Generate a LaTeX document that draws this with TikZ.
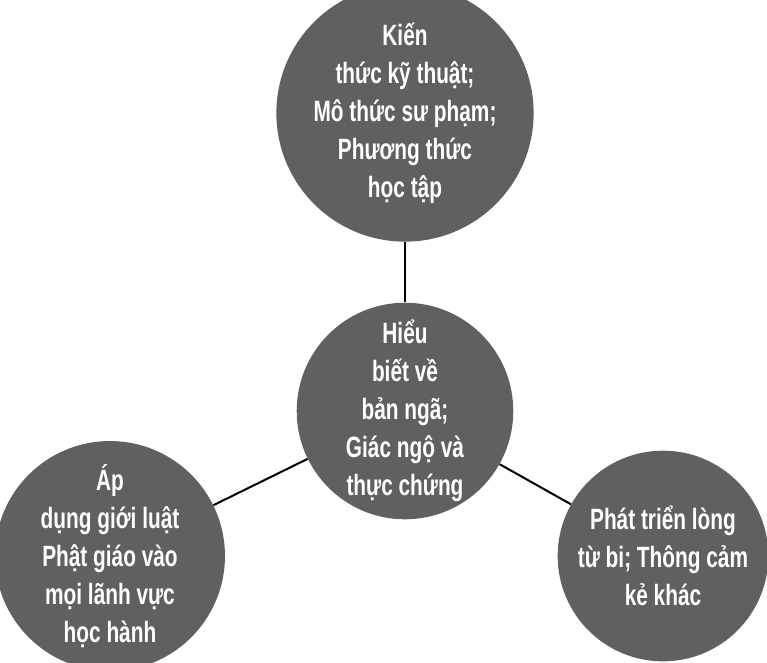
\documentclass[tikz,border=0pt]{standalone}
\usepackage{fontspec}
\setmainfont{Liberation Sans}[FakeStretch=0.71]
\usepackage{xcolor}
\usepackage{tikz}
\definecolor{vonggray}{RGB}{96,96,96}

\begin{document}
\begin{tikzpicture}[x=0.75pt,y=-0.75pt,
    vong/.style={circle, fill=vonggray, minimum size=158pt, inner sep=0pt,
        align=center, text=white, font=\fontsize{22}{28.5}\selectfont\bfseries},
    noi/.style={line width=1.5pt, black}]
    \useasboundingbox (0,0) rectangle (767,662);

    % các vòng tròn
    \node[vong] (tren) at (405,113) {Kiến\\thức kỹ thuật;\\Mô thức sư phạm;\\Phương thức\\học tập};
    \node[vong] (giua) at (405,411) {Hiểu\\biết về\\bản ngã;\\Giác ngộ và\\thực chứng};
    \node[vong] (trai) at (110,556) {Áp\\dụng giới luật\\Phật giáo vào\\mọi lãnh vực\\học hành};
    \node[vong] (phai) at (663,556) {Phát triển lòng\\từ bi; Thông cảm\\kẻ khác};

    % đường nối
    \draw[noi] (giua) -- (tren);
    \draw[noi] (giua) -- (trai);
    \draw[noi] (giua) -- (phai);
\end{tikzpicture}
\end{document}
